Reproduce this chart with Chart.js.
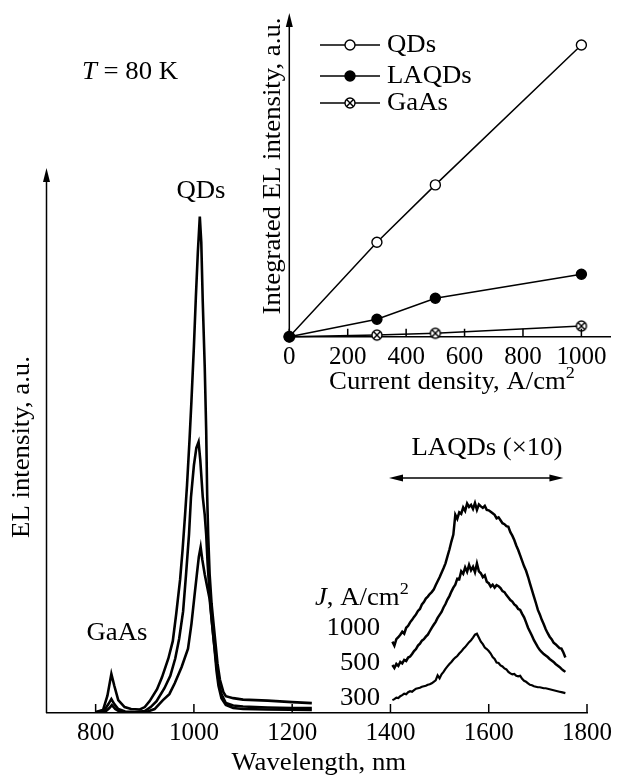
<!DOCTYPE html>
<html lang="en">
<head>
<meta charset="UTF-8">
<title>EL spectra, T = 80 K</title>
<script src="https://cdn.jsdelivr.net/npm/chart.js"></script>
<style>
  html, body { margin: 0; padding: 0; background: #fff; }
  #wrap { position: relative; width: 617px; height: 775px; }
  #mainChart { position: absolute; left: 0; top: 0; }
  #insetChart { position: absolute; left: 250px; top: 0; }
</style>
</head>
<body>
<div id="wrap">
  <canvas id="mainChart" width="617" height="775"></canvas>
  <canvas id="insetChart" width="367" height="400"></canvas>
</div>
<script>
// ---- main panel: EL spectra (wavelength nm, intensity a.u.) ----
const qd1000Wl = [800, 815, 824, 832, 838, 846, 859, 872, 890, 900, 910, 925, 935, 948, 957, 964, 972, 977, 982, 986, 991, 995, 1000, 1004, 1008, 1012, 1015, 1018, 1022, 1025, 1027, 1029, 1032, 1036, 1040, 1044, 1048, 1053, 1060, 1065, 1080, 1100, 1150, 1200, 1240];
const qd1000I  = [0.2, 0.6, 3.5, 7.9, 5.5, 2.6, 1.2, 0.8, 0.7, 1.2, 2.4, 4.8, 7.2, 11, 14.5, 20, 27, 33, 40, 46, 55, 63, 74, 84, 93, 100.2, 95, 83, 70, 57, 44, 36, 28, 22, 18, 14, 10, 6.7, 4.2, 3.4, 3.0, 2.7, 2.5, 2.2, 2.0];

const qd500Wl = [800, 818, 826, 832, 838, 846, 860, 880, 900, 912, 924, 940, 952, 962, 970, 978, 984, 990, 994, 1000, 1005, 1009.5, 1013, 1018, 1022, 1025, 1028, 1032, 1036, 1040, 1045, 1050, 1056, 1065, 1080, 1100, 1150, 1200, 1240];
const qd500I  = [0.1, 0.6, 1.8, 2.8, 1.8, 0.8, 0.3, 0.2, 0.4, 1.2, 2.4, 5.0, 7.5, 11, 15, 20.5, 28, 36, 43.5, 50, 53.5, 54.7, 51, 43.6, 40, 36, 30, 24, 19, 15, 10.5, 6.5, 3.8, 2.0, 1.5, 1.3, 1.1, 1.0, 1.0];

const qd300Wl = [800, 820, 828, 833, 840, 850, 870, 900, 920, 937, 950, 961, 975, 988, 995, 1001, 1006, 1010, 1013.7, 1017, 1022, 1027, 1032, 1037, 1042, 1046, 1050, 1056, 1065, 1080, 1100, 1150, 1240];
const qd300I  = [0, 0.3, 1.0, 1.6, 0.8, 0.2, 0, 0.1, 0.8, 2.6, 3.8, 6.0, 9.3, 13, 18, 23.5, 28, 31.5, 33.5, 31, 28, 25.5, 23, 18, 13, 8.5, 5.5, 3.0, 1.6, 1.0, 0.8, 0.7, 0.6];

// LAQDs band, shown x10 and shifted up for each current density
const laqdWl = [1404, 1408, 1412, 1416, 1420, 1424, 1428, 1432, 1436, 1440, 1444, 1448, 1452, 1456, 1460, 1464, 1468, 1472, 1476, 1480,
                1484, 1488, 1492, 1496, 1500, 1504, 1508, 1512, 1516, 1520, 1524, 1528, 1532, 1536, 1540, 1544, 1548, 1552, 1556, 1560,
                1564, 1568, 1572, 1576, 1580, 1584, 1588, 1592, 1596, 1600, 1604, 1608, 1612, 1616, 1620, 1624, 1628, 1632, 1636, 1640,
                1644, 1648, 1652, 1656, 1660, 1664, 1668, 1672, 1676, 1680, 1684, 1688, 1692, 1696, 1700, 1704, 1708, 1712, 1716, 1720,
                1724, 1728, 1732, 1736, 1740, 1744, 1748, 1752, 1756];
const laqd1000 = [14.4, 13.6, 14.9, 15.3, 15.8, 16.4, 16.0, 17.2, 17.6, 18.3, 18.8, 19.4, 19.9, 20.6, 21.0, 21.9, 22.4, 23.1, 23.5, 24.0,
                  24.4, 24.9, 25.8, 26.6, 27.4, 28.3, 29.2, 30.2, 31.6, 33.0, 34.6, 36.0, 40.0, 39.2, 40.5, 40.2, 41.5, 40.8, 42.3, 41.6,
                  42.0, 41.2, 42.4, 41.0, 42.1, 41.7, 41.4, 41.8, 41.0, 40.9, 40.6, 40.3, 40.0, 39.3, 39.5, 38.9, 38.3, 38.1, 37.7, 37.6,
                  36.5, 35.8, 34.9, 33.8, 32.9, 31.8, 30.7, 29.6, 28.7, 27.5, 26.1, 24.8, 23.5, 22.2, 20.8, 19.9, 18.8, 17.9, 16.9, 16.1,
                  15.4, 14.9, 14.2, 13.9, 13.5, 13.1, 13.0, 12.2, 11.2];
const laqd500 = [9.7, 9.1, 9.9, 9.5, 10.3, 10.0, 10.7, 10.5, 11.2, 11.4, 11.9, 12.5, 12.9, 13.6, 14.0, 14.6, 14.9, 15.4, 15.8, 16.5,
                 17.2, 17.8, 18.4, 19.2, 19.8, 20.4, 21.3, 22.0, 22.9, 23.6, 24.5, 25.3, 25.9, 27.1, 27.0, 28.6, 28.1, 29.4, 28.5, 29.9,
                 28.8, 29.5, 28.4, 30.2, 28.6, 28.2, 27.4, 27.8, 26.5, 26.2, 25.5, 25.9, 25.3, 25.8, 25.6, 25.2, 24.6, 24.4, 23.8, 23.3,
                 22.8, 22.5, 21.9, 21.6, 21.0, 20.8, 20.0, 19.3, 18.3, 17.2, 16.4, 15.6, 14.7, 14.0, 13.3, 12.7, 12.3, 11.9, 11.6, 11.3,
                 10.9, 10.6, 10.3, 9.9, 9.6, 9.3, 8.9, 8.6, 8.3];
const laqd300 = [2.6, 2.8, 3.1, 3.0, 3.4, 3.6, 3.9, 3.8, 4.2, 4.4, 4.3, 4.6, 4.9, 5.0, 5.1, 5.3, 5.4, 5.5, 5.7, 5.8,
                 6.0, 6.3, 6.6, 7.6, 7.0, 7.8, 8.3, 8.9, 9.4, 9.9, 10.3, 10.8, 11.2, 11.5, 12.0, 12.4, 12.9, 13.3, 13.8, 14.3,
                 14.7, 15.2, 15.8, 16.0, 15.2, 14.4, 13.9, 13.2, 12.9, 12.5, 12.0, 11.3, 10.9, 10.2, 10.1, 9.6, 9.4, 9.0, 8.8, 8.3,
                 8.0, 7.8, 7.9, 7.5, 7.4, 7.5, 6.9, 6.5, 6.3, 6.0, 5.7, 5.6, 5.4, 5.3, 5.2, 5.2, 5.1, 5.0, 5.0, 4.9,
                 4.8, 4.7, 4.6, 4.5, 4.4, 4.3, 4.2, 4.1, 4.0];

const wlTicks = [800, 1000, 1200, 1400, 1600, 1800];
const jLabels = ['1000', '500', '300'];

// ---- inset: integrated EL vs current density ----
const jValues = [0, 300, 500, 1000];
const intQDs   = [0, 29.2, 46.9, 90.1];
const intLAQDs = [0, 5.4, 11.9, 19.3];
const intGaAs  = [0, 0.5, 1.05, 3.3];
const jTicks = [0, 200, 400, 600, 800, 1000];

const SERIF = '"Liberation Serif", "Times New Roman", serif';
const FS = 25;
const SX = 1.07;   // the original type is set a little wide

function xy(xs, ys) { return xs.map((x, i) => ({x: x, y: ys[i]})); }

// draws text stretched horizontally by SX, returns the drawn width
function txt(ctx, s, x, y, align, opts) {
  opts = opts || {};
  const size = opts.size || FS;
  ctx.font = (opts.italic ? 'italic ' : '') + size + 'px ' + SERIF;
  const w = ctx.measureText(s).width * SX;
  let x0 = x;
  if (align === 'center') x0 = x - w / 2;
  if (align === 'right') x0 = x - w;
  ctx.save();
  ctx.translate(x0, y);
  if (opts.rotate) ctx.rotate(opts.rotate);
  ctx.scale(SX, 1);
  ctx.textAlign = 'left';
  ctx.textBaseline = 'middle';
  ctx.fillText(s, 0, 0);
  ctx.restore();
  return w;
}

// "... A/cm" followed by a raised 2
function unitText(ctx, pieces, x, y, align) {
  let total = 0;
  pieces.forEach(p => {
    ctx.font = (p.italic ? 'italic ' : '') + (p.sup ? 17 : FS) + 'px ' + SERIF;
    total += ctx.measureText(p.s).width * SX;
  });
  let cx = align === 'center' ? x - total / 2 : x;
  pieces.forEach(p => {
    cx += txt(ctx, p.s, cx, p.sup ? y - 8 : y, 'left', {italic: p.italic, size: p.sup ? 17 : FS});
  });
}

function arrowHead(ctx, x, y, dir, len, half) {
  ctx.beginPath();
  ctx.moveTo(x, y);
  if (dir === 'up')    { ctx.lineTo(x - half, y + len); ctx.lineTo(x + half, y + len); }
  if (dir === 'left')  { ctx.lineTo(x + len, y - half); ctx.lineTo(x + len, y + half); }
  if (dir === 'right') { ctx.lineTo(x - len, y - half); ctx.lineTo(x - len, y + half); }
  ctx.closePath();
  ctx.fill();
}

function inwardTicks(ctx, scale, len) {
  ctx.beginPath();
  scale.ticks.forEach(t => {
    const px = scale.getPixelForValue(t.value);
    ctx.moveTo(px, scale.top);
    ctx.lineTo(px, scale.top - len);
  });
  ctx.stroke();
}

// crossed circle marker for GaAs
function crossedCircle(r) {
  const c = document.createElement('canvas');
  const s = Math.ceil(2 * r + 4);
  c.width = c.height = s;
  const g = c.getContext('2d');
  g.lineWidth = 1.4;
  g.strokeStyle = '#000';
  g.fillStyle = '#fff';
  g.beginPath(); g.arc(s / 2, s / 2, r, 0, Math.PI * 2); g.fill(); g.stroke();
  const d = r * 0.68;
  g.beginPath();
  g.moveTo(s / 2 - d, s / 2 - d); g.lineTo(s / 2 + d, s / 2 + d);
  g.moveTo(s / 2 + d, s / 2 - d); g.lineTo(s / 2 - d, s / 2 + d);
  g.stroke();
  return c;
}
const gaasMarker = crossedCircle(5);

const mainDecor = {
  id: 'mainDecor',
  afterDraw(chart) {
    const ctx = chart.ctx, a = chart.chartArea, xs = chart.scales.x;
    ctx.save();
    ctx.strokeStyle = '#000';
    ctx.fillStyle = '#000';
    ctx.lineWidth = 1.5;
    // y axis with arrow
    ctx.beginPath();
    ctx.moveTo(a.left, a.bottom);
    ctx.lineTo(a.left, a.top + 6);
    ctx.stroke();
    arrowHead(ctx, a.left, a.top, 'up', 14, 3.5);
    inwardTicks(ctx, xs, 9);

    // axis titles
    txt(ctx, 'Wavelength, nm', (a.left + a.right) / 2 + 2, 763, 'center');
    ctx.font = FS + 'px ' + SERIF;
    const yw = ctx.measureText('EL intensity, a.u.').width * SX;
    txt(ctx, 'EL intensity, a.u.', 22, 447 + yw / 2, 'left', {rotate: -Math.PI / 2});

    // annotations
    txt(ctx, 'QDs', 201, 191, 'center');
    txt(ctx, 'GaAs', 117, 633, 'center');
    txt(ctx, 'LAQDs (\u00d710)', 487, 448, 'center');
    let w = txt(ctx, 'T', 82, 72, 'left', {italic: true});
    txt(ctx, ' = 80 K', 82 + w, 72, 'left');
    unitText(ctx, [{s: 'J', italic: true}, {s: ', A/cm'}, {s: '2', sup: true}], 315, 598, 'left');
    [628, 663, 698].forEach((y, i) => txt(ctx, jLabels[i], 380, y, 'right'));

    // double arrow over the LAQDs band
    const x1 = xs.getPixelForValue(1397), x2 = xs.getPixelForValue(1752), ya = 478;
    ctx.lineWidth = 1.3;
    ctx.beginPath();
    ctx.moveTo(x1 + 8, ya); ctx.lineTo(x2 - 8, ya);
    ctx.stroke();
    arrowHead(ctx, x1, ya, 'left', 14, 3.5);
    arrowHead(ctx, x2, ya, 'right', 14, 3.5);
    ctx.restore();
  }
};

const insetDecor = {
  id: 'insetDecor',
  afterDraw(chart) {
    const ctx = chart.ctx, a = chart.chartArea, xs = chart.scales.x;
    ctx.save();
    ctx.strokeStyle = '#000';
    ctx.fillStyle = '#000';
    ctx.lineWidth = 1.5;
    ctx.beginPath();
    ctx.moveTo(a.left, a.bottom);
    ctx.lineTo(a.left, a.top + 6);
    ctx.stroke();
    arrowHead(ctx, a.left, a.top, 'up', 14, 3.5);
    inwardTicks(ctx, xs, 8);

    unitText(ctx, [{s: 'Current density, A/cm'}, {s: '2', sup: true}], 202, 382, 'center');
    ctx.font = FS + 'px ' + SERIF;
    const yw = ctx.measureText('Integrated EL intensity, a.u.').width * SX;
    txt(ctx, 'Integrated EL intensity, a.u.', 23, 166 + yw / 2, 'left', {rotate: -Math.PI / 2});

    // legend
    const rows = [45, 76, 103];
    chart.data.datasets.forEach((ds, i) => {
      const y = rows[i];
      ctx.lineWidth = 1.5;
      ctx.strokeStyle = '#000';
      ctx.beginPath();
      ctx.moveTo(70, y); ctx.lineTo(130, y);
      ctx.stroke();
      if (ds.pointStyle === 'circle') {
        ctx.beginPath();
        ctx.arc(100, y, 5, 0, Math.PI * 2);
        ctx.fillStyle = ds.pointBackgroundColor;
        ctx.fill();
        ctx.lineWidth = 1.4;
        ctx.stroke();
      } else {
        ctx.drawImage(ds.pointStyle, 100 - ds.pointStyle.width / 2, y - ds.pointStyle.height / 2);
      }
      ctx.fillStyle = '#000';
      txt(ctx, ds.label, 137, y, 'left');
    });
    ctx.restore();
  }
};

new Chart(document.getElementById('mainChart'), {
  type: 'line',
  data: {
    datasets: [
      {label: 'QDs 1000', data: xy(qd1000Wl, qd1000I)},
      {label: 'QDs 500', data: xy(qd500Wl, qd500I)},
      {label: 'QDs 300', data: xy(qd300Wl, qd300I)},
      {label: 'LAQDs 1000', data: xy(laqdWl, laqd1000), borderWidth: 2.5},
      {label: 'LAQDs 500', data: xy(laqdWl, laqd500), borderWidth: 2.5},
      {label: 'LAQDs 300', data: xy(laqdWl, laqd300), borderWidth: 2.2}
    ]
  },
  options: {
    responsive: false,
    animation: false,
    layout: {padding: {top: 168, left: 46.5, right: 29, bottom: 0}},
    elements: {
      point: {radius: 0},
      line: {borderColor: '#000', borderWidth: 2.6, tension: 0, fill: false}
    },
    plugins: {legend: {display: false}, tooltip: {enabled: false}},
    scales: {
      x: {
        type: 'linear', min: 700, max: 1800,
        grid: {display: false, drawTicks: false},
        border: {color: '#000', width: 1.5},
        ticks: {color: '#000', padding: 5, font: {family: SERIF, size: 25}, callback: v => String(v)},
        afterBuildTicks: s => { s.ticks = wlTicks.map(v => ({value: v})); },
        afterFit: s => { s.height = 62; }
      },
      y: {display: false, min: 0, max: 110}
    }
  },
  plugins: [mainDecor]
});

new Chart(document.getElementById('insetChart'), {
  type: 'line',
  data: {
    datasets: [
      {label: 'QDs', data: xy(jValues, intQDs), pointStyle: 'circle', pointBackgroundColor: '#fff', order: 2},
      {label: 'LAQDs', data: xy(jValues, intLAQDs), pointStyle: 'circle', pointBackgroundColor: '#000', order: 0},
      {label: 'GaAs', data: xy(jValues, intGaAs), pointStyle: gaasMarker, pointBackgroundColor: '#fff', order: 1}
    ]
  },
  options: {
    responsive: false,
    animation: false,
    layout: {padding: {top: 13, left: 39.3, right: 2, bottom: 0}},
    datasets: {line: {clip: false}},
    elements: {
      point: {radius: 5, borderWidth: 1.4, borderColor: '#000'},
      line: {borderColor: '#000', borderWidth: 1.5, tension: 0, fill: false}
    },
    plugins: {legend: {display: false}, tooltip: {enabled: false}},
    scales: {
      x: {
        type: 'linear', min: 0, max: 1100,
        grid: {display: false, drawTicks: false},
        border: {color: '#000', width: 1.5},
        ticks: {color: '#000', padding: 6, font: {family: SERIF, size: 25}, callback: v => String(v)},
        afterBuildTicks: s => { s.ticks = jTicks.map(v => ({value: v})); },
        afterFit: s => { s.height = 63.3; }
      },
      y: {display: false, min: 0, max: 100}
    }
  },
  plugins: [insetDecor]
});
</script>
</body>
</html>
